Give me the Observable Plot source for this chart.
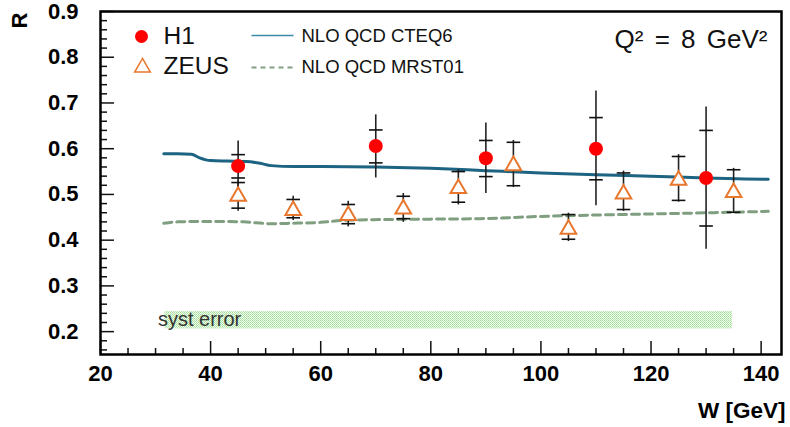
<!DOCTYPE html>
<html><head><meta charset="utf-8">
<script src="https://cdn.jsdelivr.net/npm/d3@7"></script>
<script src="https://cdn.jsdelivr.net/npm/@observablehq/plot@0.6"></script>
<style>body{margin:0;background:#fff} svg{display:block}</style>
</head><body><div id="chart"></div>
<script>
// ---- data ----
const h1W      = [45, 70, 90, 110, 130];
const h1R      = [0.562, 0.606, 0.579, 0.600, 0.536];
const h1StatLo = [0.536, 0.569, 0.539, 0.532, 0.431];
const h1StatHi = [0.587, 0.641, 0.618, 0.668, 0.640];
const h1TotLo  = [0.507, 0.536, 0.502, 0.475, 0.380];
const h1TotHi  = [0.617, 0.674, 0.656, 0.726, 0.691];

const zeusW      = [45, 55, 65, 75, 85, 95, 105, 115, 125, 135];
const zeusR      = [0.496, 0.465, 0.454, 0.468, 0.513, 0.563, 0.424, 0.501, 0.531, 0.504];
const zeusStatLo = [0.470, 0.449, 0.436, 0.447, 0.483, 0.519, 0.402, 0.467, 0.487, 0.461];
const zeusStatHi = [0.526, 0.489, 0.478, 0.496, 0.550, 0.614, 0.456, 0.547, 0.583, 0.554];
const zeusTotLo  = [0.463, 0.443, 0.429, 0.439, 0.477, 0.515, 0.397, 0.463, 0.483, 0.459];
const zeusTotHi  = [0.530, 0.496, 0.485, 0.502, 0.554, 0.618, 0.459, 0.551, 0.587, 0.557];

const cteqW = [31.5, 34, 36.5, 38, 40, 43, 46.5, 49, 51, 55, 60, 70, 80, 90, 100, 110, 120, 130, 137, 141.3];
const cteqR = [0.589, 0.589, 0.588, 0.580, 0.574, 0.573, 0.572, 0.568, 0.563, 0.561, 0.561, 0.560, 0.557, 0.552, 0.547, 0.543, 0.540, 0.536, 0.534, 0.533];

const mrstW = [31.5, 34, 40, 46, 51, 55, 60, 64, 71, 80, 89, 100, 110, 123, 141.3];
const mrstR = [0.437, 0.440, 0.441, 0.440, 0.436, 0.437, 0.439, 0.443, 0.445, 0.446, 0.447, 0.452, 0.455, 0.458, 0.463];

const systW = [31.7, 134.8];
const systR = [0.206, 0.244];

const xMajor = [20, 40, 60, 80, 100, 120, 140];
const xMinor = [25, 30, 35, 45, 50, 55, 65, 70, 75, 85, 90, 95, 105, 110, 115, 125, 130, 135];
const yMajor = [0.2, 0.3, 0.4, 0.5, 0.6, 0.7, 0.8, 0.9];
const yMinor = [0.16, 0.18, 0.22, 0.24, 0.26, 0.28, 0.32, 0.34, 0.36, 0.38, 0.42, 0.44, 0.46, 0.48,
                0.52, 0.54, 0.56, 0.58, 0.62, 0.64, 0.66, 0.68, 0.72, 0.74, 0.76, 0.78, 0.82, 0.84, 0.86, 0.88];

const legendNames = ["H1", "ZEUS", "NLO QCD CTEQ6", "NLO QCD MRST01"];
const q2Label = "Q² = 8 GeV²";
const systLabel = "syst error";
const xLabel = "W [GeV]";
const yLabel = "R";

// ---- tables ----
const h1 = h1W.map((w, i) => ({w, r: h1R[i], sLo: h1StatLo[i], sHi: h1StatHi[i], tLo: h1TotLo[i], tHi: h1TotHi[i]}));
const zeus = zeusW.map((w, i) => ({w, r: zeusR[i], sLo: zeusStatLo[i], sHi: zeusStatHi[i], tLo: zeusTotLo[i], tHi: zeusTotHi[i]}));
const caps = [...h1, ...zeus].flatMap(d => [{w: d.w, v: d.sLo}, {w: d.w, v: d.sHi}]);
const cteq = cteqW.map((w, i) => ({w, r: cteqR[i]}));
const mrst = mrstW.map((w, i) => ({w, r: mrstR[i]}));
const syst = [{x1: systW[0], x2: systW[1], y1: systR[0], y2: systR[1]}];

const hbar = {draw(ctx, size) { const r = Math.sqrt(size / Math.PI); ctx.moveTo(-r, 0); ctx.lineTo(r, 0); }};

const FONT = "Liberation Sans, Arial, sans-serif";
const chart = Plot.plot({
  width: 790, height: 427,
  marginLeft: 100, marginRight: 9, marginTop: 11, marginBottom: 73,
  style: {fontFamily: FONT, background: "#fff"},
  x: {domain: [20, 143.7]},
  y: {domain: [0.15, 0.9]},
  marks: [
    Plot.rect(syst, {x1: "x1", x2: "x2", y1: "y1", y2: "y2", fill: "url(#systpat)"}),
    Plot.text([systLabel], {x: () => systW[0], y: () => (systR[0] + systR[1]) / 2, dx: -7, dy: -1, textAnchor: "start", lineAnchor: "middle", fontSize: 20, fill: "#333"}),
    Plot.line(cteq, {x: "w", y: "r", stroke: "#1d6382", strokeWidth: 3, curve: "monotone-x"}),
    Plot.line(mrst, {x: "w", y: "r", stroke: "#7f9f80", strokeWidth: 3, strokeDasharray: "8,5", curve: "monotone-x"}),
    Plot.ruleX(h1, {x: "w", y1: "tLo", y2: "tHi", stroke: "#222", strokeWidth: 1.6}),
    Plot.ruleX(zeus, {x: "w", y1: "tLo", y2: "tHi", stroke: "#222", strokeWidth: 1.6}),
    Plot.dot(caps, {x: "w", y: "v", symbol: hbar, r: 6.8, stroke: "#111", strokeWidth: 1.6}),
    Plot.dot(zeus, {x: "w", y: "r", symbol: "triangle", r: 5.8, fill: "white", stroke: "#e8772e", strokeWidth: 2}),
    Plot.dot(h1, {x: "w", y: "r", r: 7, fill: "#ff0000"}),
    // axes: ticks inward
    Plot.axisY({ticks: yMajor, tickSize: 14, dx: 14, tickFormat: () => "", stroke: "#111", strokeWidth: 1.5, label: null}),
    Plot.axisY({ticks: yMinor, tickSize: 7, dx: 7, tickFormat: () => "", stroke: "#111", strokeWidth: 1.5, label: null}),
    Plot.axisY({ticks: yMajor, tickSize: 0, tickPadding: 22, tickFormat: d3.format(".1f"), fontSize: 22, fontWeight: "bold", label: null}),
    Plot.axisX({ticks: xMajor, tickSize: 13, dy: -13, tickFormat: () => "", stroke: "#111", strokeWidth: 1.5, label: null}),
    Plot.axisX({ticks: xMinor, tickSize: 6, dy: -6, tickFormat: () => "", stroke: "#111", strokeWidth: 1.5, label: null}),
    Plot.axisX({ticks: xMajor, tickSize: 0, tickPadding: 11, tickFormat: d3.format("d"), fontSize: 22, fontWeight: "bold", label: null}),
    Plot.frame({stroke: "#000", strokeWidth: 2.5}),
    Plot.text([xLabel], {frameAnchor: "bottom-right", dx: 4, dy: 56, textAnchor: "end", lineAnchor: "middle", fontSize: 22.5, fontWeight: "bold"}),
    Plot.text([yLabel], {frameAnchor: "top-left", dx: -81, dy: 9, rotate: -90, textAnchor: "middle", lineAnchor: "middle", fontSize: 22, fontWeight: "bold"}),
    // legend
    Plot.dot([0], {frameAnchor: "top-left", dx: 41, dy: 25, r: 6.5, fill: "#ff0000"}),
    Plot.dot([0], {frameAnchor: "top-left", dx: 42, dy: 56, r: 5.8, symbol: "triangle", fill: "white", stroke: "#e8772e", strokeWidth: 1.5}),
    Plot.text([legendNames[0]], {frameAnchor: "top-left", dx: 63, dy: 25, textAnchor: "start", lineAnchor: "middle", fontSize: 24.5, fill: "#111"}),
    Plot.text([legendNames[1]], {frameAnchor: "top-left", dx: 63, dy: 55, textAnchor: "start", lineAnchor: "middle", fontSize: 24.5, fill: "#111"}),
    Plot.dot([0], {frameAnchor: "top-left", dx: 172, dy: 24, r: 21, symbol: hbar, stroke: "#3b8aa8", strokeWidth: 1.5}),
    Plot.dot([0], {frameAnchor: "top-left", dx: 172, dy: 56, r: 21, symbol: hbar, stroke: "#7f9f80", strokeWidth: 2, strokeDasharray: "5,4"}),
    Plot.text([legendNames[2]], {frameAnchor: "top-left", dx: 201, dy: 25, textAnchor: "start", lineAnchor: "middle", fontSize: 18.5, fill: "#111"}),
    Plot.text([legendNames[3]], {frameAnchor: "top-left", dx: 201, dy: 56, textAnchor: "start", lineAnchor: "middle", fontSize: 18.5, fill: "#111"}),
    Plot.text([q2Label], {frameAnchor: "top-right", dx: -14, dy: 28, textAnchor: "end", lineAnchor: "middle", fontSize: 26, fill: "#111", className: "q2"})
  ]
});

const svg = d3.select(chart);
svg.selectAll(".q2 text").style("word-spacing", "4px");
const defs = svg.insert("defs", ":first-child");
const pat = defs.append("pattern").attr("id", "systpat").attr("width", 2).attr("height", 2).attr("patternUnits", "userSpaceOnUse");
pat.append("rect").attr("width", 2).attr("height", 2).attr("fill", "#eef9ec");
pat.append("rect").attr("width", 1).attr("height", 1).attr("fill", "#a3df9b");
pat.append("rect").attr("x", 1).attr("y", 1).attr("width", 1).attr("height", 1).attr("fill", "#b8e7b2");
document.getElementById("chart").appendChild(chart);
</script>
</body></html>
